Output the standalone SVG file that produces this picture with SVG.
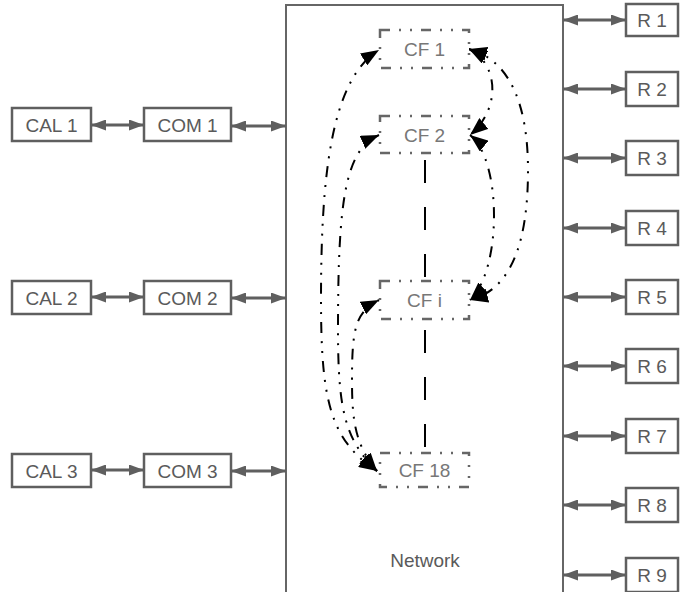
<svg xmlns="http://www.w3.org/2000/svg" width="692" height="592" viewBox="0 0 692 592">
<defs>
<marker id="ga" markerUnits="userSpaceOnUse" markerWidth="15" markerHeight="11" refX="15" refY="5.5" orient="auto-start-reverse"><path d="M0,0 L15,5.5 L0,11 z" fill="#5f5f5f"/></marker>
<marker id="ba" markerUnits="userSpaceOnUse" markerWidth="18" markerHeight="14" refX="18" refY="7" orient="auto-start-reverse"><path d="M0,0 L18,7 L0,14 z" fill="#000"/></marker>
<style>
.box{fill:#fff;stroke:#5f5f5f;stroke-width:2.5}
.cf{fill:#fff;stroke:#666;stroke-width:2.5;stroke-dasharray:10 9 2 9 2 9}
.t{font-family:"Liberation Sans",Arial,sans-serif;font-size:19px;fill:#5a5a5a;text-anchor:middle}
.ct{font-family:"Liberation Sans",Arial,sans-serif;font-size:19px;fill:#777;text-anchor:middle}
.ga{stroke:#5f5f5f;stroke-width:3;fill:none;marker-start:url(#ga);marker-end:url(#ga)}
.bc{stroke:#000;stroke-width:2;fill:none;stroke-dasharray:11 8 2 8 2 8;marker-start:url(#ba);marker-end:url(#ba)}
.vl{stroke:#000;stroke-width:2;stroke-dasharray:23 24}
</style>
</defs>
<rect width="692" height="592" fill="#fff"/>
<g id="network"><rect x="286" y="5" width="277" height="600" fill="#fff" stroke="#666" stroke-width="2"/><text class="t" x="425" y="567">Network</text></g>
<g id="connectors">
<line class="ga" x1="91" y1="125" x2="144" y2="125"/>
<line class="ga" x1="231" y1="126" x2="286" y2="126"/>
<line class="ga" x1="91" y1="297" x2="144" y2="297"/>
<line class="ga" x1="231" y1="298" x2="286" y2="298"/>
<line class="ga" x1="91" y1="470" x2="144" y2="470"/>
<line class="ga" x1="231" y1="471" x2="286" y2="471"/>
<line class="ga" x1="563" y1="20" x2="626" y2="20"/>
<line class="ga" x1="563" y1="89" x2="626" y2="89"/>
<line class="ga" x1="563" y1="158" x2="626" y2="158"/>
<line class="ga" x1="563" y1="228" x2="626" y2="228"/>
<line class="ga" x1="563" y1="297" x2="626" y2="297"/>
<line class="ga" x1="563" y1="366" x2="626" y2="366"/>
<line class="ga" x1="563" y1="436" x2="626" y2="436"/>
<line class="ga" x1="563" y1="505" x2="626" y2="505"/>
<line class="ga" x1="563" y1="575" x2="626" y2="575"/>
<line class="vl" x1="425" y1="160" x2="425" y2="279"/>
<line class="vl" x1="425" y1="330" x2="425" y2="450"/>
<path class="bc" d="M377,471 C330,440 321,400 321,300 C321,180 330,80 379,50"/>
<path class="bc" d="M377,471 C345,440 338,410 338,330 C338,200 345,150 379,135"/>
<path class="bc" d="M377,471 C355,445 352,420 352,380 C352,330 355,312 379,300"/>
<path class="bc" d="M469,49 C500,65 500,110 470,135"/>
<path class="bc" d="M469,49 C510,60 528,105 528,170 C528,245 510,290 470,300"/>
<path class="bc" d="M470,135 C502,160 502,270 470,300"/>
</g>
<g id="cal1"><rect class="box" x="12" y="108" width="79" height="33"/><text class="t" x="51.5" y="131.5">CAL 1</text></g>
<g id="com1"><rect class="box" x="144" y="108" width="87" height="33"/><text class="t" x="187.5" y="131.5">COM 1</text></g>
<g id="cal2"><rect class="box" x="12" y="281" width="79" height="33"/><text class="t" x="51.5" y="304.5">CAL 2</text></g>
<g id="com2"><rect class="box" x="144" y="281" width="87" height="33"/><text class="t" x="187.5" y="304.5">COM 2</text></g>
<g id="cal3"><rect class="box" x="12" y="454" width="79" height="33"/><text class="t" x="51.5" y="477.5">CAL 3</text></g>
<g id="com3"><rect class="box" x="144" y="454" width="87" height="33"/><text class="t" x="187.5" y="477.5">COM 3</text></g>
<g id="cf1"><rect class="cf" x="380" y="30" width="89" height="38"/><text class="ct" x="424.5" y="56">CF 1</text></g>
<g id="cf2"><rect class="cf" x="380" y="116" width="89" height="37"/><text class="ct" x="424.5" y="141.5">CF 2</text></g>
<g id="cfi"><rect class="cf" x="380" y="281" width="89" height="38"/><text class="ct" x="424.5" y="306.5">CF i</text></g>
<g id="cf18"><rect class="cf" x="380" y="453" width="89" height="34"/><text class="ct" x="424.5" y="476.5">CF 18</text></g>
<g id="r1"><rect class="box" x="626" y="4" width="52" height="32"/><text class="t" x="652" y="27">R 1</text></g>
<g id="r2"><rect class="box" x="626" y="72" width="52" height="34"/><text class="t" x="652" y="96">R 2</text></g>
<g id="r3"><rect class="box" x="626" y="141" width="52" height="34"/><text class="t" x="652" y="165">R 3</text></g>
<g id="r4"><rect class="box" x="626" y="211" width="52" height="34"/><text class="t" x="652" y="235">R 4</text></g>
<g id="r5"><rect class="box" x="626" y="280" width="52" height="34"/><text class="t" x="652" y="304">R 5</text></g>
<g id="r6"><rect class="box" x="626" y="349" width="52" height="34"/><text class="t" x="652" y="373">R 6</text></g>
<g id="r7"><rect class="box" x="626" y="419" width="52" height="34"/><text class="t" x="652" y="443">R 7</text></g>
<g id="r8"><rect class="box" x="626" y="488" width="52" height="34"/><text class="t" x="652" y="512">R 8</text></g>
<g id="r9"><rect class="box" x="626" y="558" width="52" height="34"/><text class="t" x="652" y="582">R 9</text></g>
</svg>
